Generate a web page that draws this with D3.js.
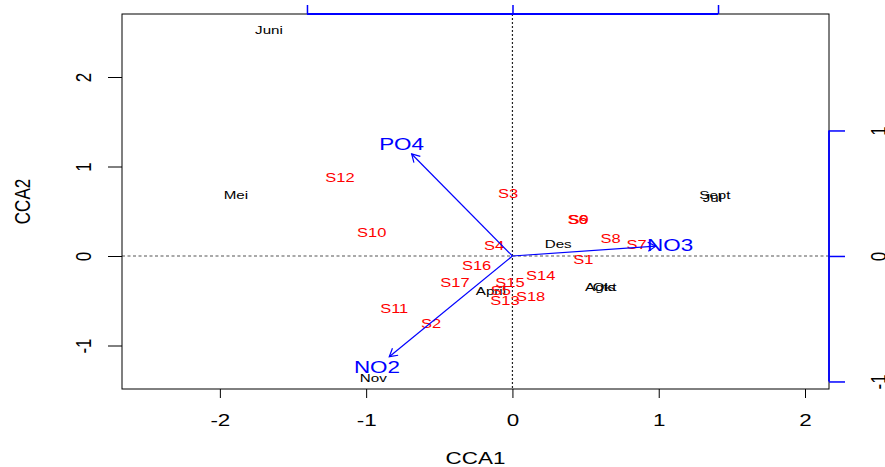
<!DOCTYPE html>
<html>
<head>
<meta charset="utf-8">
<script src="https://cdn.jsdelivr.net/npm/d3@7"></script>
<style>
  body { margin: 0; background: #fff; }
  svg { display: block; }
  text { font-family: "Liberation Sans", Arial, Helvetica, sans-serif; }
</style>
</head>
<body>
<svg id="chart" width="885" height="467"></svg>
<script>
// CCA triplot: months (black), sampling stations (red), environmental vectors (blue)

const months = ["Juni", "Mei", "Sept", "Jul", "Des", "Agts", "Okt", "April", "Nov"];
const monthCCA1 = [-1.664, -1.89, 1.384, 1.367, 0.313, 0.60, 0.63, -0.147, -0.951];
const monthCCA2 = [2.525, 0.68, 0.68, 0.646, 0.13, -0.345, -0.35, -0.387, -1.367];

const sites = ["S1", "S2", "S3", "S4", "S5", "S6", "S7", "S8", "S9",
               "S10", "S11", "S12", "S13", "S14", "S15", "S16", "S17", "S18"];
const siteCCA1 = [0.484, -0.557, -0.029, -0.126, -0.08, 0.445, 0.849, 0.671, 0.452,
                  -0.962, -0.808, -1.179, -0.051, 0.193, -0.017, -0.245, -0.393, 0.124];
const siteCCA2 = [-0.045, -0.752, 0.70, 0.112, -0.385, 0.405, 0.123, 0.198, 0.412,
                  0.265, -0.585, 0.879, -0.499, -0.22, -0.294, -0.108, -0.294, -0.455];

const envVars = ["PO4", "NO3", "NO2"];
const envCCA1 = [-0.689, 0.98, -0.842];
const envCCA2 = [1.14, 0.11, -1.125];
const labelMult = 1.1;

const xTicks = [-2, -1, 0, 1, 2];
const yTicks = [-1, 0, 1, 2];
const biplotTicks = [-1, 0, 1];

// ---- layout ----
const svg = d3.select("#chart");
const L = 122, R = 829, T = 14, B = 389;
const SX = 1.32;            // horizontal stretch of glyphs
const FS = 17;              // base font size

const x = d3.scaleLinear().domain([-2.669, 2.164]).range([L, R]);
const y = d3.scaleLinear().domain([-1.486, 2.704]).range([B, T]);
const xTop = d3.scaleLinear().domain([-1.900, 1.540]).range([L, R]);
const yRight = d3.scaleLinear().domain([-1.060, 1.928]).range([B, T]);

const BLUE = "#0000ff", RED = "#ff0000";

// origin reference lines
svg.append("line")
  .attr("x1", L).attr("x2", R).attr("y1", y(0)).attr("y2", y(0))
  .attr("stroke", "#555").attr("stroke-width", 1.2).attr("stroke-dasharray", "3,2.5");
svg.append("line")
  .attr("x1", x(0)).attr("x2", x(0)).attr("y1", T).attr("y2", B)
  .attr("stroke", "#222").attr("stroke-width", 1.2).attr("stroke-dasharray", "2,2");

// plot frame
svg.append("rect")
  .attr("x", L).attr("y", T).attr("width", R - L).attr("height", B - T)
  .attr("fill", "none").attr("stroke", "#000").attr("stroke-width", 1);

// bottom axis
const gx = svg.append("g").attr("transform", `translate(0,${B})`)
  .call(d3.axisBottom(x).tickValues(xTicks).tickSize(9).tickFormat(d => String(d)));
gx.select(".domain").remove();
gx.selectAll(".tick line").attr("stroke", "#000");
gx.selectAll(".tick text")
  .attr("y", null).attr("dy", "0.35em").attr("fill", "#000")
  .attr("font-size", FS).attr("font-family", null)
  .attr("transform", `translate(0,31) scale(${SX},1)`);

// left axis
const gy = svg.append("g").attr("transform", `translate(${L},0)`)
  .call(d3.axisLeft(y).tickValues(yTicks).tickSize(14).tickFormat(d => String(d)));
gy.select(".domain").remove();
gy.selectAll(".tick line").attr("stroke", "#000");
gy.selectAll(".tick text")
  .attr("x", 0).attr("dy", "0.35em").attr("text-anchor", "middle").attr("fill", "#000")
  .attr("font-size", FS).attr("font-family", null)
  .attr("transform", `translate(-39,0) scale(${SX},1) rotate(-90)`);

// top biplot axis
const gt = svg.append("g").attr("transform", `translate(0,${T})`)
  .call(d3.axisTop(xTop).tickValues(biplotTicks).tickSize(9).tickFormat(""));
gt.select(".domain").remove();
gt.selectAll(".tick line").attr("stroke", BLUE).attr("stroke-width", 1.5);
gt.append("line")
  .attr("x1", xTop(-1)).attr("x2", xTop(1)).attr("y1", 0).attr("y2", 0)
  .attr("stroke", BLUE).attr("stroke-width", 1.8);

// right biplot axis
const gr = svg.append("g").attr("transform", `translate(${R},0)`)
  .call(d3.axisRight(yRight).tickValues(biplotTicks).tickSize(16).tickFormat(d => String(d)));
gr.select(".domain").remove();
gr.selectAll(".tick line").attr("stroke", BLUE).attr("stroke-width", 1.5);
gr.append("line")
  .attr("x1", 0).attr("x2", 0).attr("y1", yRight(-1)).attr("y2", yRight(1))
  .attr("stroke", BLUE).attr("stroke-width", 1.8);
gr.selectAll(".tick text")
  .attr("x", 0).attr("dy", "0.35em").attr("text-anchor", "middle").attr("fill", "#000")
  .attr("font-size", FS).attr("font-family", null)
  .attr("transform", `translate(49,0) scale(${SX},1) rotate(-90)`);

// axis titles
svg.append("text")
  .attr("text-anchor", "middle").attr("dy", "0.35em").attr("font-size", FS)
  .attr("transform", `translate(${(L + R) / 2},458) scale(${SX},1)`)
  .text("CCA1");
svg.append("text")
  .attr("text-anchor", "middle").attr("dy", "0.35em").attr("font-size", FS)
  .attr("transform", `translate(22,${(T + B) / 2}) scale(${SX},1) rotate(-90)`)
  .text("CCA2");

// month scores
svg.append("g").selectAll("text").data(months).join("text")
  .attr("text-anchor", "middle").attr("dy", "0.35em")
  .attr("font-size", 11.5).attr("fill", "#000")
  .attr("transform", (d, i) => `translate(${x(monthCCA1[i])},${y(monthCCA2[i])}) scale(${SX},1)`)
  .text(d => d);

// station scores
svg.append("g").selectAll("text").data(sites).join("text")
  .attr("text-anchor", "middle").attr("dy", "0.35em")
  .attr("font-size", 12.5).attr("fill", RED)
  .attr("transform", (d, i) => `translate(${x(siteCCA1[i])},${y(siteCCA2[i])}) scale(${SX},1)`)
  .text(d => d);

// environmental arrows
const ga = svg.append("g");
envVars.forEach((v, i) => {
  const x0 = x(0), y0 = y(0);
  const x1 = x(envCCA1[i]), y1 = y(envCCA2[i]);
  const ang = Math.atan2(y1 - y0, x1 - x0);
  const hl = 9, ha = Math.PI / 6;
  ga.append("line")
    .attr("x1", x0).attr("y1", y0).attr("x2", x1).attr("y2", y1)
    .attr("stroke", BLUE).attr("stroke-width", 1.2);
  ga.append("path")
    .attr("d", `M${x1 - hl * Math.cos(ang - ha)},${y1 - hl * Math.sin(ang - ha)}` +
               `L${x1},${y1}` +
               `L${x1 - hl * Math.cos(ang + ha)},${y1 - hl * Math.sin(ang + ha)}`)
    .attr("fill", "none").attr("stroke", BLUE).attr("stroke-width", 1.2);
  ga.append("text")
    .attr("text-anchor", "middle").attr("dy", "0.35em")
    .attr("font-size", FS).attr("fill", BLUE)
    .attr("transform", `translate(${x(envCCA1[i] * labelMult)},${y(envCCA2[i] * labelMult)}) scale(${SX},1)`)
    .text(v);
});
</script>
</body>
</html>
